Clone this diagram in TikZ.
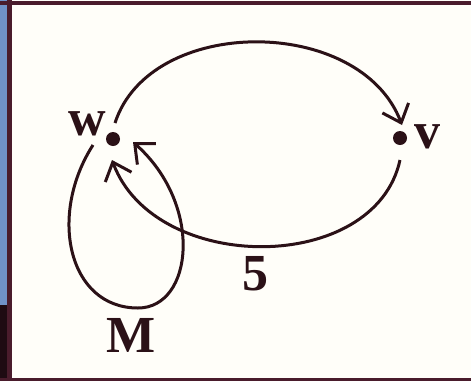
\documentclass[tikz,border=0pt]{standalone}
\usepackage{fontspec}
\setmainfont{Liberation Serif}
\usetikzlibrary{arrows.meta,calc}
\definecolor{ink}{HTML}{2B1117}
\definecolor{framec}{HTML}{4A1C2C}
\definecolor{sky}{HTML}{7092C8}
\definecolor{darkc}{HTML}{1E0B12}
\definecolor{paper}{HTML}{FFFEF9}
\begin{document}
\begin{tikzpicture}[x=1pt,y=-1pt,
  dot/.style={circle,fill=ink,inner sep=0pt,minimum size=14pt},
  lbl/.style={text=ink,font=\fontsize{52}{60}\selectfont\bfseries,inner sep=0pt,anchor=base},
  edge/.style={draw=ink,line width=3pt,-{Straight Barb[length=16pt,width=28pt]}}]
\useasboundingbox (0,0) rectangle (471,381);
\fill[paper] (0,0) rectangle (471,381);
\fill[sky] (0,0) rectangle (7,305);
\fill[darkc] (0,305) rectangle (10,381);
\fill[framec] (7,0) rectangle (12,381);
\fill[framec] (0,1) rectangle (471,5);
\fill[framec] (0,378) rectangle (471,381);
\node[dot] (w) at (113,139) {};
\node[dot] (v) at (400,138) {};
\node[lbl] (wl) at (87,135) {w};
\node[lbl] (vl) at (427,148) {v};
\node[lbl] (five) at (255,290) {5};
\node[lbl] (m) at (131,352) {M};
\coordinate (mb) at (138,308);
\draw[edge] ($(w)+(2,-16)$) .. controls (150,15) and (360,15) .. ($(v)+(2,-13)$);
\draw[edge] ($(v)+(0,22)$) .. controls (375,275) and (155,275) .. ($(w)+(-1,21)$);
\draw[edge] ($(w)+(-20,6)$) .. controls (48,215) and (68,308) .. (mb)
  .. controls (193,308) and (204,205) .. ($(w)+(20,3)$);
\end{tikzpicture}
\end{document}
